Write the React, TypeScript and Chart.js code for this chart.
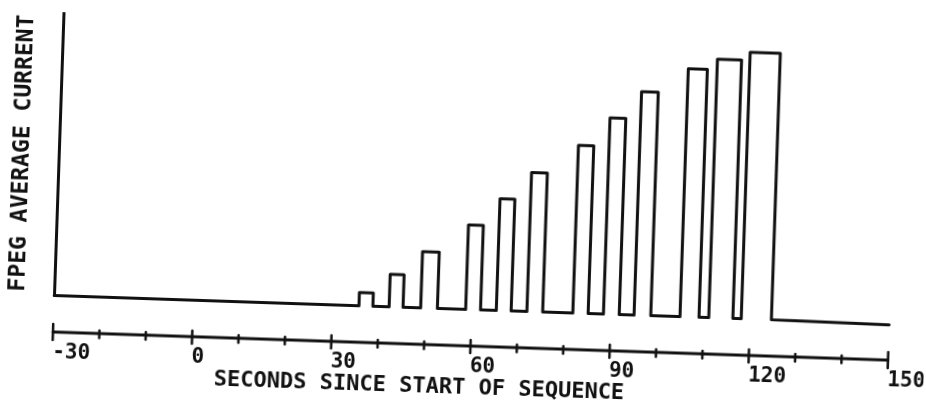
import React, { useEffect, useRef } from 'react';
import { Chart, registerables } from 'chart.js';

Chart.register(...registerables);

// Data (time in seconds, current in arbitrary units 0..100)
const pulseStart = [35.7, 42.2, 49.0, 58.7, 65.3, 71.9, 81.8, 88.4, 95.0, 104.9, 111.1, 118.1];
const pulseEnd = [38.7, 45.2, 52.6, 61.9, 68.5, 75.3, 85.1, 91.8, 98.6, 109.0, 116.3, 124.6];
const pulseLevel = [4.7, 11.5, 19.9, 29.9, 39.5, 49.2, 59.4, 69.5, 79.1, 87.8, 91.5, 94.3];
const baseLevel = 0;
const endLevel = -0.5;
const timeStart = -30;
const timeEnd = 150;
const majorTicks = [-30, 0, 30, 60, 90, 120, 150];
const minorTicks = [-20, -10, 10, 20, 40, 50, 70, 80, 100, 110, 130, 140];
const xTitle = 'SECONDS SINCE START OF SEQUENCE';
const yTitle = 'FPEG AVERAGE CURRENT';

const INK = '#111';
const FONT = '"DejaVu Sans Mono", "Liberation Mono", monospace';
const TICK_PAD = 44.4;
const TICK_SIZE = 21;

const axisPlugin = {
  id: 'plotterAxis',
  afterDraw(chart: any) {
    const { ctx, chartArea } = chart;
    const x = chart.scales.x;
    const yAxis = chartArea.bottom + 36.7;
    ctx.save();
    ctx.strokeStyle = INK;
    ctx.lineCap = 'round';
    ctx.lineWidth = 3;
    ctx.beginPath();
    ctx.moveTo(x.getPixelForValue(timeStart), yAxis);
    ctx.lineTo(x.getPixelForValue(timeEnd), yAxis);
    ctx.stroke();
    ctx.lineWidth = 2.5;
    majorTicks.forEach((v) => {
      const px = x.getPixelForValue(v);
      const end = v === timeStart || v === timeEnd;
      ctx.beginPath();
      ctx.moveTo(px, yAxis - (end ? 8 : 6));
      ctx.lineTo(px, yAxis + (end ? 8 : 7));
      ctx.stroke();
    });
    minorTicks.forEach((v) => {
      const px = x.getPixelForValue(v);
      ctx.beginPath();
      ctx.moveTo(px, yAxis - 3);
      ctx.lineTo(px, yAxis + 4.5);
      ctx.stroke();
    });
    ctx.fillStyle = INK;
    ctx.font = `bold 22px ${FONT}`;
    ctx.textAlign = 'center';
    ctx.textBaseline = 'middle';
    ctx.fillText(xTitle, chartArea.left + (chartArea.right - chartArea.left) * 0.44, chartArea.bottom + 78.5);
    ctx.restore();
  },
};

export default function App() {
  const ref = useRef<HTMLCanvasElement | null>(null);

  useEffect(() => {
    if (!ref.current) return;
    const points: { x: number; y: number }[] = [{ x: timeStart, y: baseLevel }];
    pulseStart.forEach((s, i) => {
      points.push(
        { x: s, y: baseLevel },
        { x: s, y: pulseLevel[i] },
        { x: pulseEnd[i], y: pulseLevel[i] },
        { x: pulseEnd[i], y: baseLevel }
      );
    });
    points.push({ x: timeEnd, y: endLevel });

    const chart = new Chart(ref.current, {
      type: 'line',
      data: {
        datasets: [
          {
            data: points,
            borderColor: INK,
            borderWidth: 3,
            borderJoinStyle: 'round',
            borderCapStyle: 'round',
            pointRadius: 0,
            tension: 0,
            fill: false,
            clip: false as any,
          },
        ],
      },
      options: {
        animation: false,
        responsive: false,
        maintainAspectRatio: false,
        devicePixelRatio: 1,
        layout: { padding: { left: 0, top: 13, right: 0, bottom: 43 } },
        plugins: { legend: { display: false }, tooltip: { enabled: false } },
        scales: {
          x: {
            type: 'linear',
            min: timeStart,
            max: timeEnd,
            grid: { display: false, drawTicks: false },
            border: { display: false },
            afterBuildTicks: (s: any) => {
              s.ticks = majorTicks.map((v) => ({ value: v }));
            },
            afterFit: (s: any) => {
              s.height = TICK_PAD + TICK_SIZE * 1.2;
              s.paddingRight = 36.3;
              s.paddingLeft = 0;
            },
            ticks: {
              align: 'start',
              autoSkip: false,
              maxRotation: 0,
              padding: TICK_PAD,
              color: INK,
              font: { family: FONT, weight: 'bold', size: TICK_SIZE },
              callback: (v: any) => String(v),
            },
          },
          y: {
            min: 0,
            max: 100,
            grid: { display: false, drawTicks: false },
            border: { display: true, width: 3, color: INK },
            ticks: { display: false },
            title: {
              display: true,
              text: yTitle,
              color: INK,
              font: { family: FONT, weight: 'bold', size: 23 },
              padding: { top: 4, bottom: 22.6 },
            },
          },
        },
      },
      plugins: [axisPlugin],
    });
    return () => chart.destroy();
  }, []);

  return (
    <div
      style={{
        position: 'fixed',
        left: 0,
        top: 0,
        width: 926,
        height: 408,
        transform: 'rotate(1.93deg)',
        transformOrigin: '54px 295px',
      }}
    >
      <canvas ref={ref} width={926} height={408} style={{ display: 'block', width: 926, height: 408 }} />
    </div>
  );
}
